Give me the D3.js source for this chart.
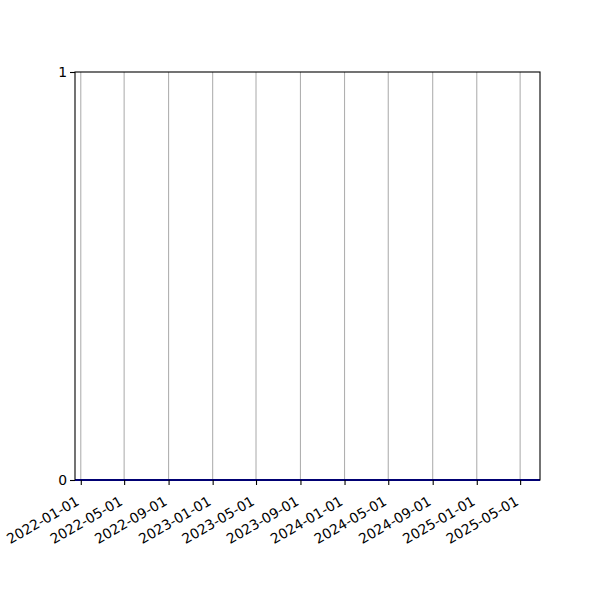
<!DOCTYPE html>
<html>
<head>
<meta charset="utf-8">
<script src="https://cdn.jsdelivr.net/npm/d3@7"></script>
<style>
  body { margin: 0; background: #fff; }
  text { font-family: "DejaVu Sans", sans-serif; }
</style>
</head>
<body>
<div id="chart"></div>
<script>
// series: every value sits at zero
var dates = ['2021-12-16', '2022-04-01', '2022-08-01', '2022-12-01', '2023-04-01',
             '2023-08-01', '2023-12-01', '2024-04-01', '2024-08-01', '2024-12-01',
             '2025-04-01', '2025-06-25'];
var values = [0, 0, 0, 0, 0, 0, 0, 0, 0, 0, 0, 0];
var xTicks = ['2022-01-01', '2022-05-01', '2022-09-01', '2023-01-01', '2023-05-01',
              '2023-09-01', '2024-01-01', '2024-05-01', '2024-09-01', '2025-01-01',
              '2025-05-01'];
var yTicks = [0, 1];

var svgWidth = 600;
var svgHeight = 600;
var margin = { top: 72, right: 60, bottom: 120, left: 75 };
var width = svgWidth - margin.left - margin.right;
var height = svgHeight - margin.top - margin.bottom;

var parse = d3.timeParse('%Y-%m-%d');
var data = dates.map((d, i) => ({ date: parse(d), value: values[i] }));

var svg = d3.select('#chart')
    .append('svg')
    .attr('width', svgWidth)
    .attr('height', svgHeight);

var chartGroup = svg.append('g')
    .attr('transform', `translate(${margin.left},${margin.top})`);

var xScale = d3.scaleTime()
    .domain(d3.extent(data, d => d.date))
    .range([0, width]);

var yScale = d3.scaleLinear()
    .domain([0, 1])
    .range([height, 0]);

// vertical grid
chartGroup.append('g')
    .selectAll('line')
    .data(xTicks)
    .enter()
    .append('line')
    .attr('x1', d => xScale(parse(d)))
    .attr('x2', d => xScale(parse(d)))
    .attr('y1', 0)
    .attr('y2', height)
    .attr('stroke', '#b0b0b0')
    .attr('stroke-width', 1.1);

// the line
var line = d3.line()
    .x(d => xScale(d.date))
    .y(d => yScale(d.value));

chartGroup.append('path')
    .datum(data)
    .attr('d', line)
    .attr('fill', 'none')
    .attr('stroke', '#0000ff')
    .attr('stroke-width', 2.1);

// axes
var bottomAxis = d3.axisBottom(xScale)
    .tickValues(xTicks.map(parse))
    .tickFormat(d3.timeFormat('%Y-%m-%d'))
    .tickSizeInner(5)
    .tickSizeOuter(0);

var leftAxis = d3.axisLeft(yScale)
    .tickValues(yTicks)
    .tickFormat(d3.format('d'))
    .tickSizeInner(5)
    .tickSizeOuter(0);

var xAxisG = chartGroup.append('g')
    .attr('transform', `translate(0, ${height})`)
    .call(bottomAxis);

xAxisG.selectAll('text')
    .attr('font-size', 13.9)
    .attr('fill', '#000')
    .style('text-anchor', 'end')
    .attr('x', 0)
    .attr('y', 0)
    .attr('dy', 0)
    .attr('transform', 'translate(-1, 24) rotate(-30)');

var yAxisG = chartGroup.append('g')
    .call(leftAxis);

yAxisG.selectAll('text')
    .attr('font-size', 13.9)
    .attr('fill', '#000')
    .attr('x', -8);

chartGroup.selectAll('.domain').remove();
chartGroup.selectAll('.tick line')
    .attr('stroke', '#000')
    .attr('stroke-width', 1.1);

// frame
chartGroup.append('rect')
    .attr('x', 0)
    .attr('y', 0)
    .attr('width', width)
    .attr('height', height)
    .attr('fill', 'none')
    .attr('stroke', '#000')
    .attr('stroke-width', 1.1);
</script>
</body>
</html>
